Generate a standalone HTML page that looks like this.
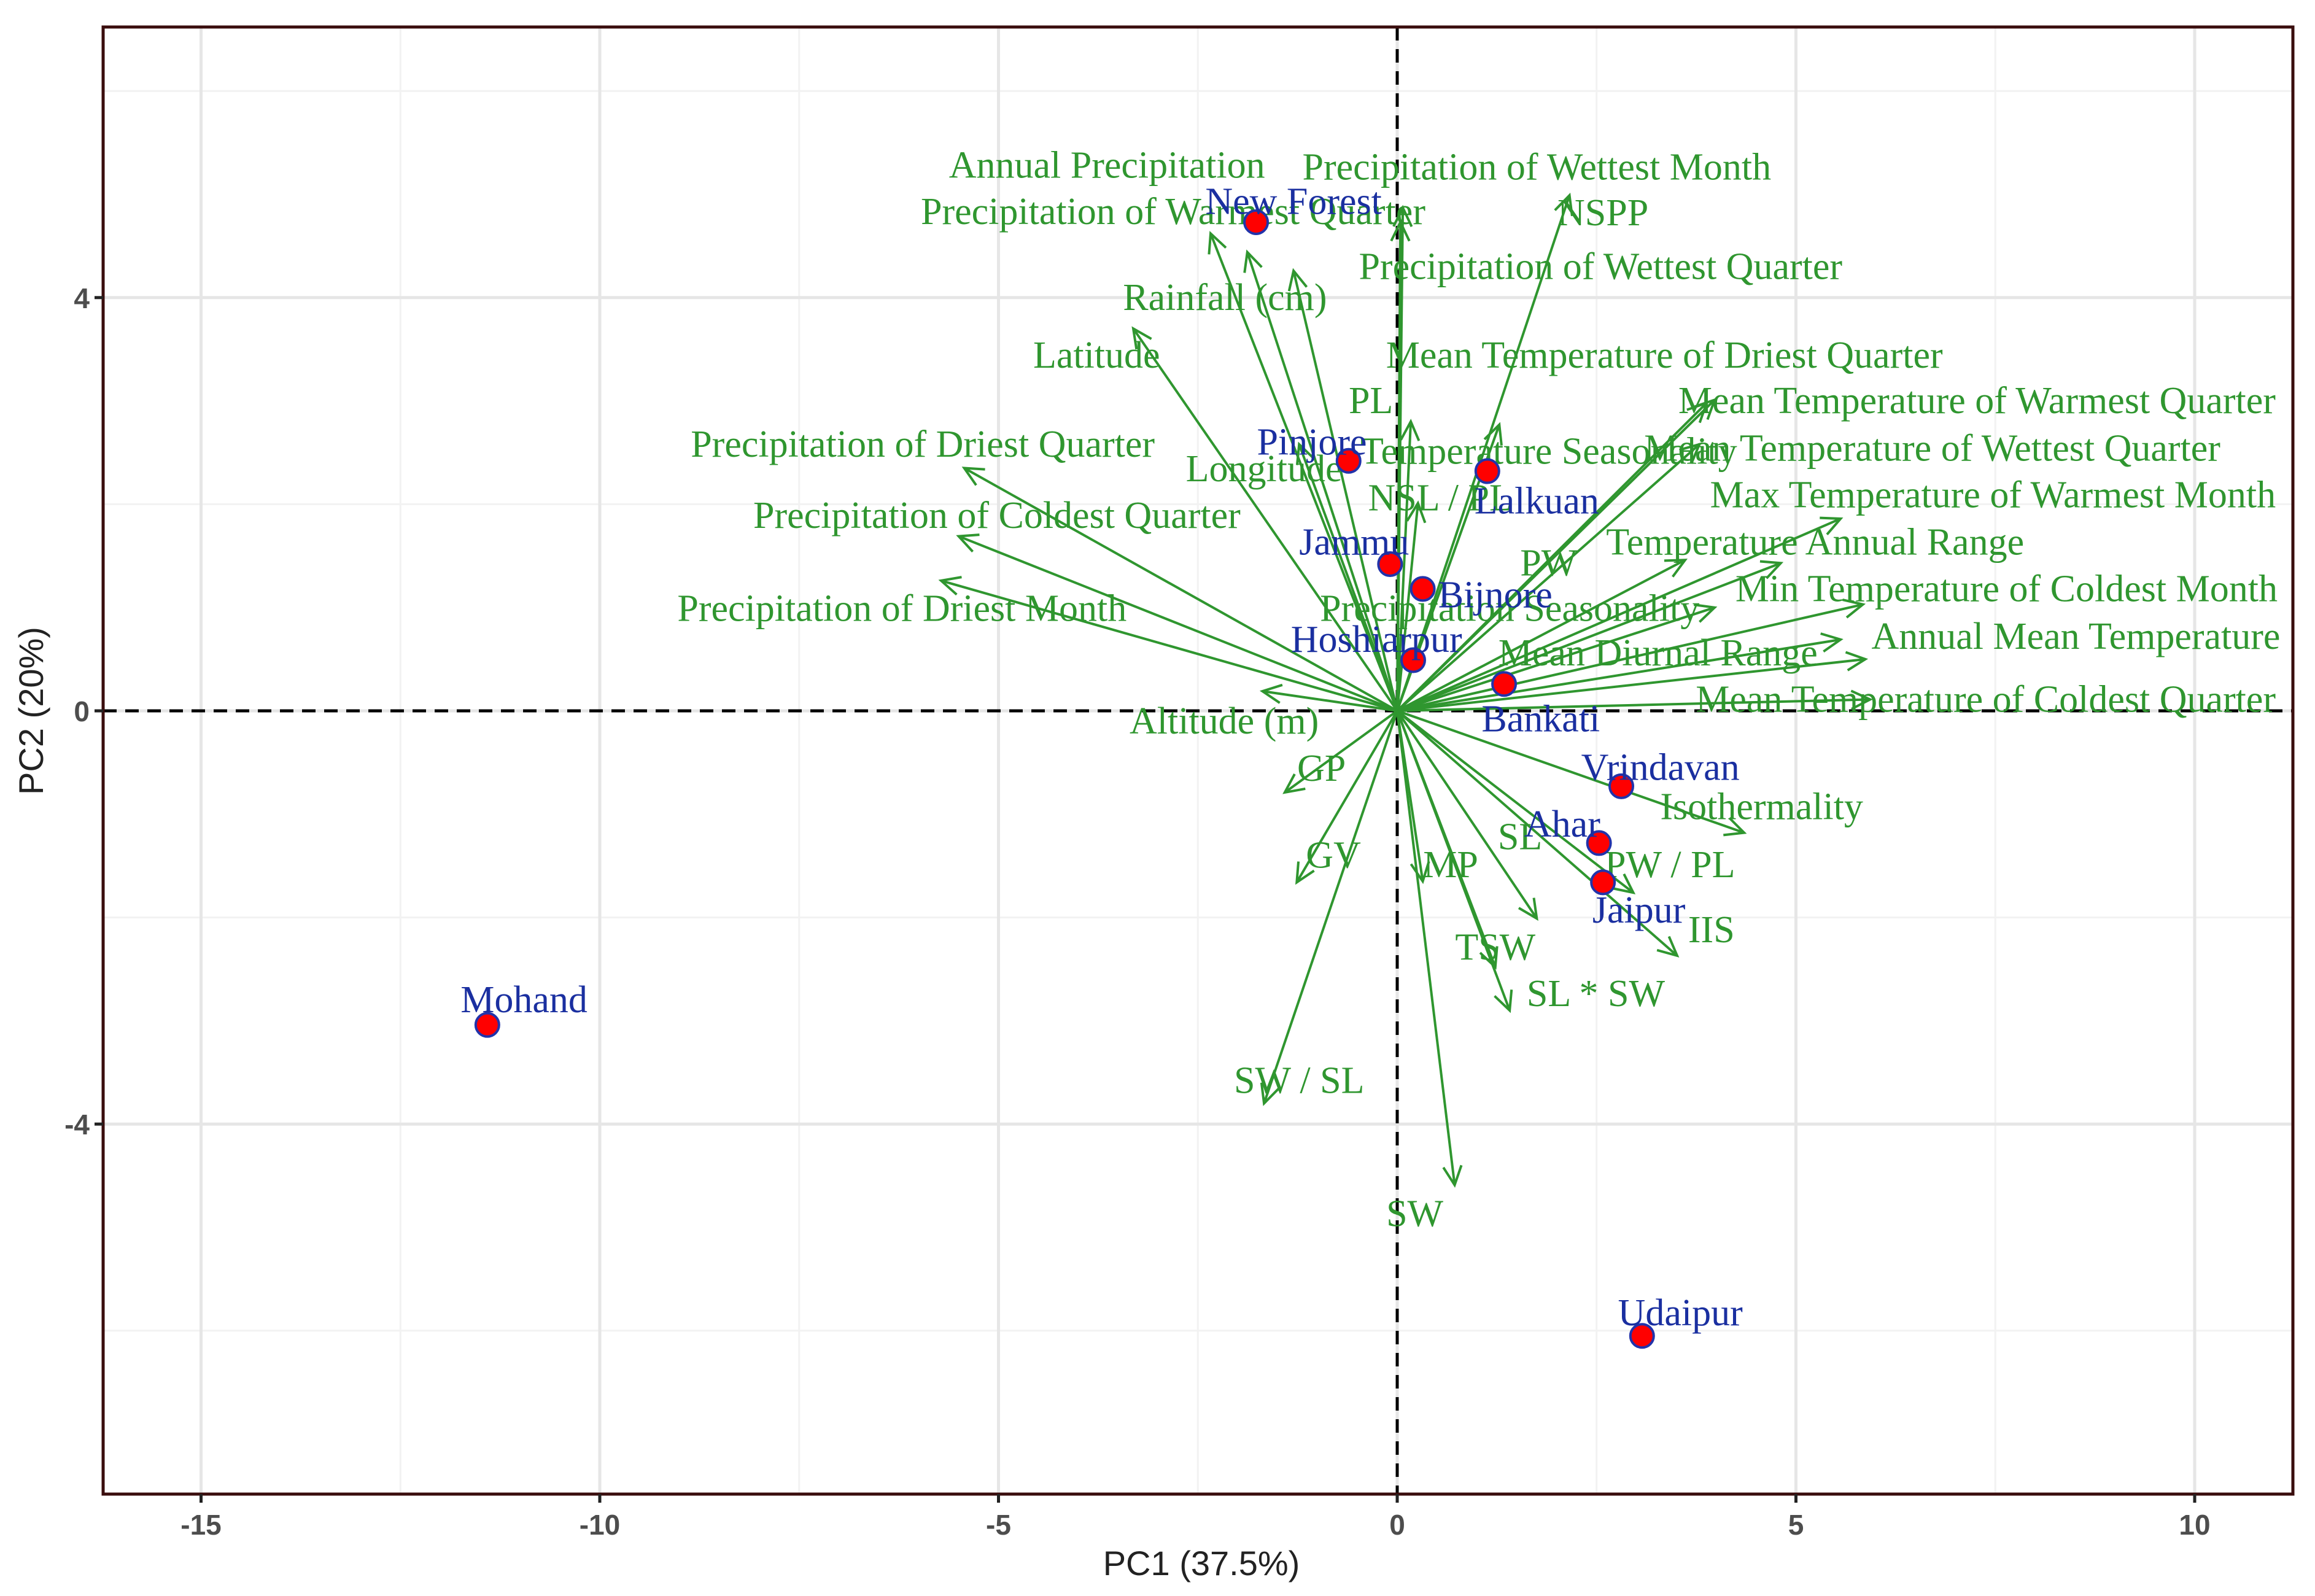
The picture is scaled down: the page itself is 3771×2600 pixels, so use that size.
<!DOCTYPE html>
<html><head><meta charset="utf-8"><style>
html,body{margin:0;padding:0;background:#fff;}
svg{display:block;}
</style></head><body>
<svg id="chart" width="3771" height="2600" viewBox="0 0 3771 2600" xmlns="http://www.w3.org/2000/svg">
<rect x="0" y="0" width="3771" height="2600" fill="#fff"/>
<g id="grid"></g><g id="refs"></g><g id="arrows"></g><g id="alabels"></g><g id="points"></g><g id="plabels"></g>
<rect x="168" y="44" width="3567" height="2390" fill="none" stroke="#3a0d0d" stroke-width="5"/>
<g id="axes"></g>
<text x="1957" y="2566" font-family="Liberation Sans, sans-serif" font-size="56" fill="#222" text-anchor="middle">PC1 (37.5%)</text>
<text x="70" y="1158" font-family="Liberation Sans, sans-serif" font-size="56" fill="#222" text-anchor="middle" transform="rotate(-90 70 1158)">PC2 (20%)</text>
</svg>
<script>
const siteNames=["New Forest","Pinjore","Lalkuan","Jammu","Bijnore","Hoshiarpur","Bankati","Vrindavan","Ahar","Jaipur","Mohand","Udaipur"];
const siteX=[-1.77,-0.61,1.13,-0.09,0.32,0.20,1.34,2.81,2.53,2.58,-11.41,3.07];
const siteY=[4.73,2.42,2.32,1.42,1.18,0.49,0.26,-0.73,-1.28,-1.66,-3.04,-6.05];
const siteLabX=[-1.30,-1.07,1.75,-0.54,1.23,-0.26,1.80,3.30,2.07,3.03,-10.95,3.55];
const siteLabY=[4.93,2.60,2.03,1.63,1.12,0.69,-0.08,-0.55,-1.10,-1.93,-2.80,-5.83];
const varNames=["Annual Precipitation","Precipitation of Warmest Quarter","Rainfall (cm)","Precipitation of Wettest Month","Precipitation of Wettest Quarter","NSPP","Latitude","Mean Temperature of Driest Quarter","Mean Temperature of Warmest Quarter","PL","Mean Temperature of Wettest Quarter","Temperature Seasonality","Longitude","Precipitation of Driest Quarter","Max Temperature of Warmest Month","NSL / PL","Precipitation of Coldest Quarter","Temperature Annual Range","PW","Min Temperature of Coldest Month","Precipitation of Driest Month","Precipitation Seasonality","Annual Mean Temperature","Mean Diurnal Range","Mean Temperature of Coldest Quarter","Altitude (m)","GP","Isothermality","GV","MP","SL","PW / PL","IIS","TSW","SL * SW","SW / SL","SW"];
const varX=[-2.34,-1.88,-1.30,0.07,0.04,2.16,-3.31,3.88,3.98,0.17,3.79,1.28,-1.23,-5.43,5.56,0.26,-5.50,4.81,3.61,5.84,-5.72,3.98,5.56,5.87,5.93,-1.69,-1.41,4.35,-1.26,0.32,1.75,2.96,3.51,1.23,1.41,-1.67,0.72];
const varY=[4.62,4.44,4.26,4.87,4.73,4.99,3.70,2.98,3.01,2.80,2.58,2.77,2.58,2.35,1.86,2.01,1.69,1.43,1.46,1.03,1.26,1.00,0.69,0.50,0.11,0.19,-0.79,-1.18,-1.66,-1.65,-2.01,-1.76,-2.37,-2.48,-2.90,-3.80,-4.59];
const varLabX=[-3.64,-2.81,-2.16,1.75,2.55,2.58,-3.77,3.35,7.27,-0.33,6.71,1.90,-1.67,-5.95,7.47,0.54,-5.02,5.24,1.90,7.64,-6.21,1.41,8.51,3.27,7.38,-2.17,-0.95,4.57,-0.80,0.67,1.54,3.42,3.94,1.23,2.49,-1.23,0.22];
const varLabY=[5.28,4.83,4.00,5.26,4.30,4.82,3.44,3.44,3.00,3.00,2.54,2.51,2.34,2.58,2.09,2.06,1.89,1.63,1.43,1.18,0.99,0.99,0.72,0.56,0.11,-0.10,-0.56,-0.93,-1.40,-1.49,-1.22,-1.49,-2.12,-2.29,-2.74,-3.58,-4.87];
const xTicks=[-15,-10,-5,0,5,10];
const yTicks=[-4,0,4];
const xMinor=[-12.5,-7.5,-2.5,2.5,7.5];
const yMinor=[-6,-2,2,6];

const L=168,R=3735,T=44,B=2434;
const X0=2276,XU=129.9,Y0=1158,YU=168.3;
const sx=v=>X0+v*XU, sy=v=>Y0-v*YU;
const NS="http://www.w3.org/2000/svg";
function mk(tag,attrs,parent){const e=document.createElementNS(NS,tag);for(const k in attrs)e.setAttribute(k,attrs[k]);parent.appendChild(e);return e;}
const grid=document.getElementById('grid');
xMinor.forEach(v=>{const e=mk('line',{x1:sx(v),x2:sx(v),y1:T,y2:B,stroke:'#f2f2f2','stroke-width':3},grid);

});
yMinor.forEach(v=>{const e=mk('line',{x1:L,x2:R,y1:sy(v),y2:sy(v),stroke:'#f2f2f2','stroke-width':3},grid);

});
xTicks.forEach(v=>{const e=mk('line',{x1:sx(v),x2:sx(v),y1:T,y2:B,stroke:'#e6e6e6','stroke-width':5},grid);

});
yTicks.forEach(v=>{const e=mk('line',{x1:L,x2:R,y1:sy(v),y2:sy(v),stroke:'#e6e6e6','stroke-width':5},grid);

});
const refs=document.getElementById('refs');
let r1=mk('line',{x1:sx(0),x2:sx(0),y1:T,y2:B,stroke:'#000','stroke-width':5,'stroke-dasharray':'22 14'},refs);


let r2=mk('line',{x1:L,x2:R,y1:sy(0),y2:sy(0),stroke:'#000','stroke-width':5,'stroke-dasharray':'22 14'},refs);


const ag=document.getElementById('arrows'), alg=document.getElementById('alabels');
const G='#2f962f';
varNames.forEach((n,i)=>{
  const x1=sx(0),y1=sy(0),x2=sx(varX[i]),y2=sy(varY[i]);
  const g=mk('g',{},ag);
  
  
  mk('line',{x1:x1,y1:y1,x2:x2,y2:y2,stroke:G,'stroke-width':4},g);
  const a=Math.atan2(y2-y1,x2-x1),h=34,s=0.45;
  mk('polyline',{points:`${x2-h*Math.cos(a-s)},${y2-h*Math.sin(a-s)} ${x2},${y2} ${x2-h*Math.cos(a+s)},${y2-h*Math.sin(a+s)}`,fill:'none',stroke:G,'stroke-width':4},g);
  const t=mk('text',{x:sx(varLabX[i]),y:sy(varLabY[i])+20,'text-anchor':'middle','font-family':'Liberation Serif, serif','font-size':62,fill:G},alg);
  
  
  t.textContent=n;
});
const pg=document.getElementById('points'), plg=document.getElementById('plabels');
siteNames.forEach((n,i)=>{
  const c=mk('circle',{cx:sx(siteX[i]),cy:sy(siteY[i]),r:19,fill:'#f00',stroke:'#2233aa','stroke-width':4},pg);
  
  
  const t=mk('text',{x:sx(siteLabX[i]),y:sy(siteLabY[i])+20,'text-anchor':'middle','font-family':'Liberation Serif, serif','font-size':62,fill:'#1a2fa0'},plg);
  
  
  t.textContent=n;
});
const ax=document.getElementById('axes');
xTicks.forEach(v=>{
  mk('line',{x1:sx(v),x2:sx(v),y1:B,y2:B+14,stroke:'#222','stroke-width':5},ax);
  const t=mk('text',{x:sx(v),y:B+66,'text-anchor':'middle','font-family':'Liberation Sans, sans-serif','font-size':46,'font-weight':'bold',fill:'#4d4d4d'},ax);
  
  
  t.textContent=v;
});
yTicks.forEach(v=>{
  mk('line',{x1:L-14,x2:L,y1:sy(v),y2:sy(v),stroke:'#222','stroke-width':5},ax);
  const t=mk('text',{x:L-22,y:sy(v)+17,'text-anchor':'end','font-family':'Liberation Sans, sans-serif','font-size':46,'font-weight':'bold',fill:'#4d4d4d'},ax);
  
  
  t.textContent=v;
});
</script>
</body></html>
